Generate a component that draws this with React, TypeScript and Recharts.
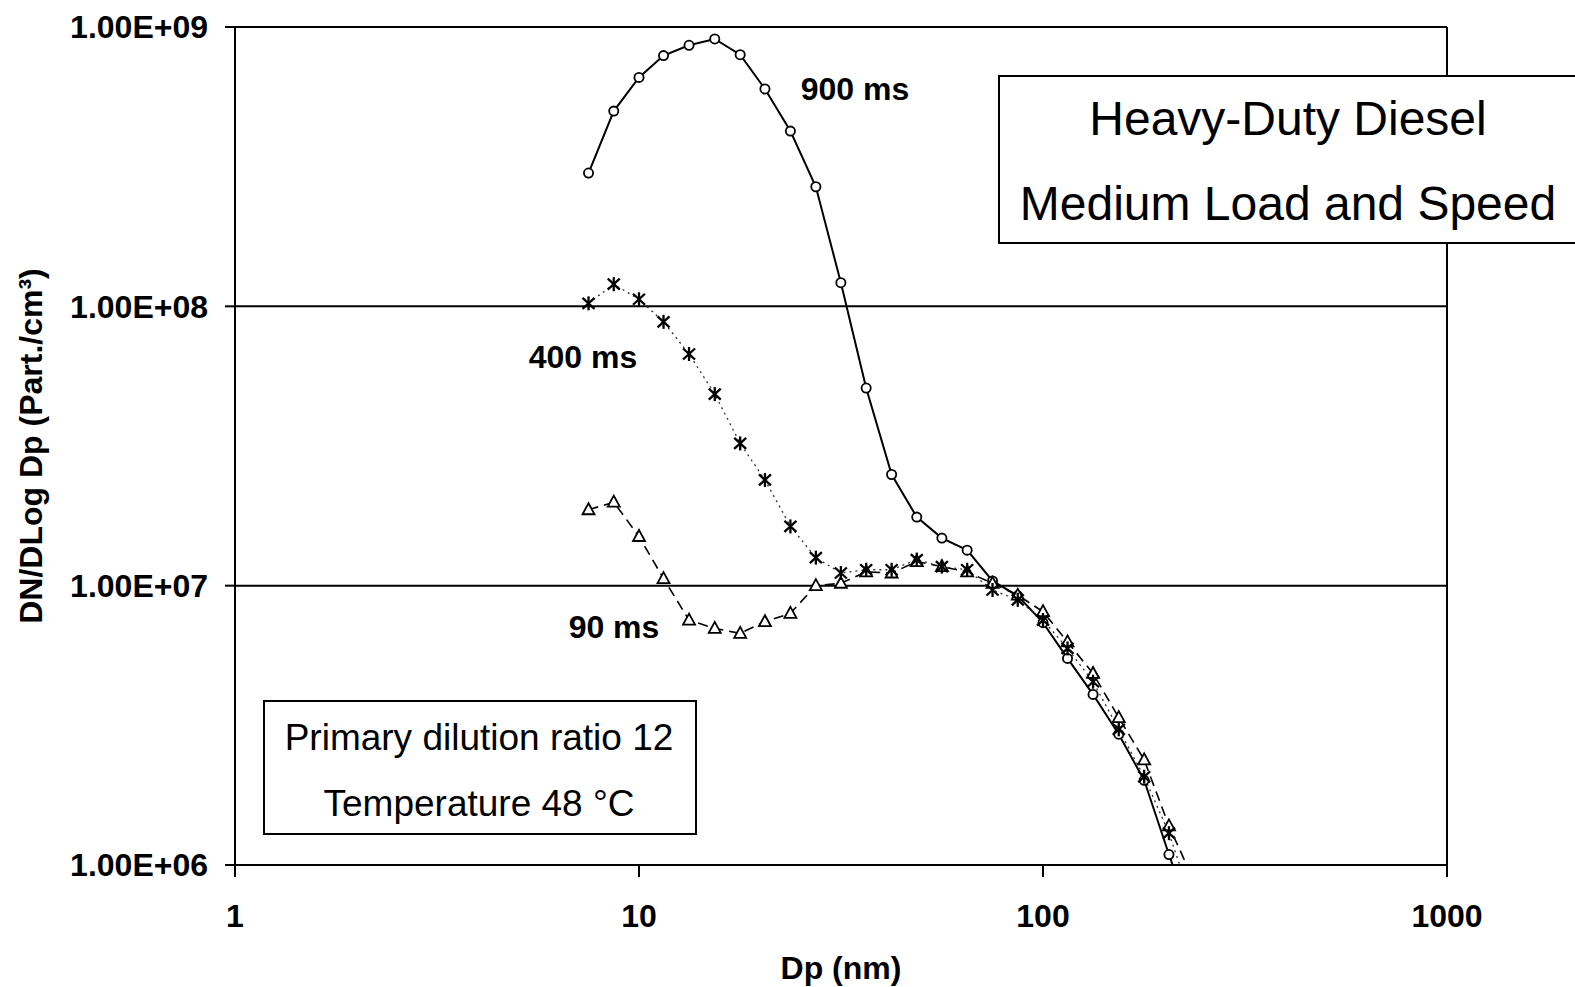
import React from "react";
import {
  LineChart,
  Line,
  XAxis,
  YAxis,
  CartesianGrid,
  ReferenceLine,
  Label,
} from "recharts";

// particle diameter bins (nm)
const diameters = [
  7.5, 8.66, 10.0, 11.5, 13.3, 15.4, 17.8, 20.5, 23.7, 27.4, 31.6, 36.5, 42.2,
  48.7, 56.2, 64.9, 75.0, 86.6, 100, 115, 133, 154, 178, 205, 237,
];

// residence time 900 ms
const n900 = [
  3.0e8, 5.0e8, 6.6e8, 7.9e8, 8.6e8, 9.06e8, 7.96e8, 6.0e8, 4.24e8, 2.68e8,
  1.215e8, 5.1e7, 2.5e7, 1.76e7, 1.48e7, 1.34e7, 1.04e7, 9.2e6, 7.37e6, 5.49e6,
  4.08e6, 2.94e6, 2.01e6, 1.09e6, 6.0e5,
];

// residence time 400 ms
const n400 = [
  1.025e8, 1.2e8, 1.06e8, 8.8e7, 6.75e7, 4.85e7, 3.23e7, 2.39e7, 1.63e7, 1.26e7,
  1.11e7, 1.14e7, 1.14e7, 1.24e7, 1.17e7, 1.14e7, 9.65e6, 8.9e6, 7.53e6, 5.96e6,
  4.53e6, 3.06e6, 2.07e6, 1.3e6, 7.0e5,
];

// residence time 90 ms
const n90 = [
  1.87e7, 1.99e7, 1.5e7, 1.06e7, 7.53e6, 7.03e6, 6.75e6, 7.43e6, 7.96e6, 1.0e7,
  1.02e7, 1.12e7, 1.11e7, 1.22e7, 1.17e7, 1.12e7, 1.02e7, 9.25e6, 8.07e6, 6.29e6,
  4.85e6, 3.37e6, 2.38e6, 1.38e6, 8.7e5,
];

const xTicks = [1, 10, 100, 1000];
const yTicks = [1e6, 1e7, 1e8, 1e9];
const yTickLabels = ["1.00E+06", "1.00E+07", "1.00E+08", "1.00E+09"];

const rows = diameters.map((dp, i) => ({
  dp,
  ms900: n900[i],
  ms400: n400[i],
  ms90: n90[i],
}));

const FONT = "'Liberation Sans', Arial, Helvetica, sans-serif";
const axisText = { fill: "#000", fontSize: 32, fontWeight: "bold", fontFamily: FONT };

const Ring = (p: any) => (
  <circle
    key={`ring-${p.index}`}
    cx={p.cx}
    cy={p.cy}
    r={4.6}
    fill="#fff"
    stroke="#000"
    strokeWidth={1.8}
  />
);

const Asterisk = (p: any) => {
  const { cx, cy } = p;
  return (
    <g key={`star-${p.index}`} stroke="#000" strokeWidth={2.3}>
      <line x1={cx - 6} y1={cy - 5.5} x2={cx + 6} y2={cy + 5.5} />
      <line x1={cx - 6} y1={cy + 5.5} x2={cx + 6} y2={cy - 5.5} />
      <line x1={cx} y1={cy - 7} x2={cx} y2={cy + 7} />
    </g>
  );
};

const Tri = (p: any) => {
  const { cx, cy } = p;
  return (
    <polygon
      key={`tri-${p.index}`}
      points={`${cx},${cy - 6.5} ${cx - 6},${cy + 4.5} ${cx + 6},${cy + 4.5}`}
      fill="#fff"
      stroke="#000"
      strokeWidth={1.8}
    />
  );
};

const YTitle = (props: any) => {
  const vb = props.viewBox;
  const x = vb.x + 31;
  const y = vb.y + vb.height / 2;
  return (
    <text
      x={x}
      y={y}
      transform={`rotate(-90 ${x} ${y})`}
      textAnchor="middle"
      dominantBaseline="central"
      fontFamily={FONT}
      fontWeight="bold"
      fontSize={32}
      fill="#000"
    >
      DN/DLog Dp (Part./cm³)
    </text>
  );
};

const note = (x: number, y: number, size: number, bold = false): React.CSSProperties => ({
  position: "absolute",
  left: x,
  top: y,
  transform: "translate(-50%, -50%)",
  fontFamily: FONT,
  fontSize: size,
  fontWeight: bold ? "bold" : "normal",
  lineHeight: 1,
  whiteSpace: "nowrap",
  color: "#000",
});

export default function App() {
  return (
    <div
      style={{
        position: "absolute",
        left: 0,
        top: 0,
        width: 1575,
        height: 987,
        overflow: "hidden",
        background: "#fff",
      }}
    >
      <LineChart
        width={1575}
        height={987}
        data={rows}
        margin={{ top: 27, right: 128, bottom: 12, left: 0 }}
      >
        <CartesianGrid vertical={false} stroke="#000" strokeWidth={2} />
        <XAxis
          dataKey="dp"
          type="number"
          scale="log"
          domain={[1, 1000]}
          ticks={xTicks}
          allowDataOverflow
          height={110}
          stroke="#000"
          strokeWidth={2}
          tickSize={12}
          tickMargin={27}
          tick={axisText}
        >
          <Label value="Dp (nm)" position="insideBottom" offset={-4} style={axisText} />
        </XAxis>
        <YAxis
          type="number"
          scale="log"
          domain={[1e6, 1e9]}
          ticks={yTicks}
          allowDataOverflow
          width={235}
          stroke="#000"
          strokeWidth={2}
          tickSize={10}
          tickMargin={17}
          tickFormatter={(v: number) => yTickLabels[yTicks.indexOf(v)] ?? ""}
          tick={axisText}
        >
          <Label content={<YTitle />} />
        </YAxis>
        <ReferenceLine x={1000} stroke="#000" strokeWidth={2} />
        <Line
          dataKey="ms900"
          stroke="#000"
          strokeWidth={2}
          dot={Ring}
          isAnimationActive={false}
        />
        <Line
          dataKey="ms90"
          stroke="#000"
          strokeWidth={1.6}
          strokeDasharray="10 6"
          dot={Tri}
          isAnimationActive={false}
        />
        <Line
          dataKey="ms400"
          stroke="#333"
          strokeWidth={1.3}
          strokeDasharray="2 4"
          dot={Asterisk}
          isAnimationActive={false}
        />
      </LineChart>

      <div style={note(855, 89, 32, true)}>900 ms</div>
      <div style={note(583, 357, 32, true)}>400 ms</div>
      <div style={note(614, 627, 32, true)}>90 ms</div>

      <div
        style={{
          position: "absolute",
          left: 998,
          top: 75,
          width: 600,
          height: 169,
          border: "2px solid #000",
          background: "#fff",
          boxSizing: "border-box",
        }}
      />
      <div style={note(1288, 119, 48)}>Heavy-Duty Diesel</div>
      <div style={note(1288, 204, 48)}>Medium Load and Speed</div>

      <div
        style={{
          position: "absolute",
          left: 263,
          top: 700,
          width: 434,
          height: 135,
          border: "2px solid #000",
          background: "#fff",
          boxSizing: "border-box",
        }}
      />
      <div style={note(479, 737, 37)}>Primary dilution ratio 12</div>
      <div style={note(479, 803, 37)}>Temperature 48 °C</div>
    </div>
  );
}
